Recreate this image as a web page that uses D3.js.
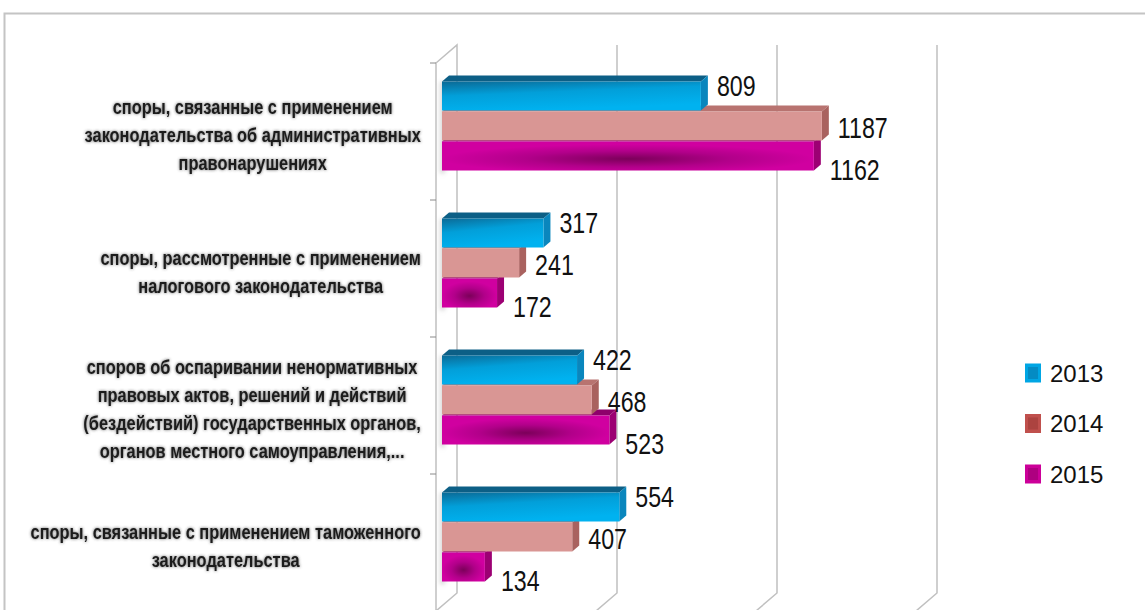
<!DOCTYPE html>
<html><head><meta charset="utf-8">
<script src="https://cdn.jsdelivr.net/npm/d3@7"></script>
<style>
html,body{margin:0;padding:0;background:#fff;}
svg{display:block;}
</style></head>
<body>
<svg id="chart" width="1145" height="610"></svg>
<script>
// ---- data ----
const categories = [
  "споры, связанные с применением\nзаконодательства об административных\nправонарушениях",
  "споры, рассмотренные с применением\nналогового законодательства",
  "споров об оспаривании ненормативных\nправовых актов, решений и действий\n(бездействий) государственных органов,\nорганов местного самоуправления,...",
  "споры, связанные с применением таможенного\nзаконодательства"
];
const series = ["2013", "2014", "2015"];
const values2013 = [809, 317, 422, 554];
const values2014 = [1187, 241, 468, 407];
const values2015 = [1162, 172, 523, 134];
const gridTicks = [0, 500, 1000, 1500];

const seriesValues = [values2013, values2014, values2015];

// ---- layout ----
const svg = d3.select("#chart");
const W = 1145, H = 610;
const depthX = 21, depthY = -18;        // wall depth
const frontTop = 63, frontBottom = 611; // front edge of the side wall
const frontX = 436;
const barX0 = 442;
const barDX = 7, barDY = -6;            // bar 3D depth

const xBar = d3.scaleLinear().domain([0, 1500]).range([barX0, barX0 + 480]);
const xBack = d3.scaleLinear().domain([0, 1500]).range([frontX + depthX, frontX + depthX + 480]);
const yBand = d3.scaleBand().domain(d3.range(categories.length)).range([frontTop, frontBottom]);
const ySeries = d3.scaleBand().domain(d3.range(series.length)).range([-45, 45]);

const defs = svg.append("defs");
// gradients
const gBlue = defs.append("linearGradient").attr("id", "gBlue")
  .attr("x1", 0).attr("y1", 0).attr("x2", 0.35).attr("y2", 1);
gBlue.append("stop").attr("offset", 0).attr("stop-color", "#0b6a96");
gBlue.append("stop").attr("offset", 0.45).attr("stop-color", "#029fd9");
gBlue.append("stop").attr("offset", 1).attr("stop-color", "#00b2f0");

const gMag = defs.append("radialGradient").attr("id", "gMag")
  .attr("cx", 0.5).attr("cy", 0.6).attr("r", 0.5);
gMag.append("stop").attr("offset", 0).attr("stop-color", "#7c005a");
gMag.append("stop").attr("offset", 0.55).attr("stop-color", "#b2008a");
gMag.append("stop").attr("offset", 1).attr("stop-color", "#d000a0");

const gWall = defs.append("linearGradient").attr("id", "gWall")
  .attr("x1", 0).attr("y1", 0).attr("x2", 1).attr("y2", 0);
gWall.append("stop").attr("offset", 0).attr("stop-color", "#ffffff").attr("stop-opacity", 0);
gWall.append("stop").attr("offset", 0.5).attr("stop-color", "#9a9a9a").attr("stop-opacity", 0.55);
gWall.append("stop").attr("offset", 1).attr("stop-color", "#ffffff").attr("stop-opacity", 0);

const blur = defs.append("filter").attr("id", "wblur").attr("x", "-50%").attr("y", "-20%").attr("width", "200%").attr("height", "140%");
blur.append("feGaussianBlur").attr("stdDeviation", 2);

const shadow = defs.append("filter").attr("id", "tshadow").attr("x", "-10%").attr("y", "-30%").attr("width", "120%").attr("height", "160%");
shadow.append("feGaussianBlur").attr("in", "SourceAlpha").attr("stdDeviation", 1.4).attr("result", "b");
shadow.append("feFlood").attr("flood-color", "#3a3a3a").attr("flood-opacity", 0.8).attr("result", "c");
shadow.append("feComposite").attr("in", "c").attr("in2", "b").attr("operator", "in").attr("result", "s");
const fm = shadow.append("feMerge");
fm.append("feMergeNode").attr("in", "s");
fm.append("feMergeNode").attr("in", "SourceGraphic");

const styles = [
  {front: "url(#gBlue)", top: "#0c5f86", side: "#0a86bd"},
  {front: "#d99694", top: "#b87370", side: "#a9625f"},
  {front: "url(#gMag)", top: "#8e006b", side: "#9c0073"}
];

// ---- frame ----
svg.append("path")
  .attr("d", `M4.5,${H + 5} V13.5 H${W + 5}`)
  .attr("fill", "none").attr("stroke", "#c4c4c4").attr("stroke-width", 2);

// ---- walls & gridlines ----
const grid = svg.append("g").attr("fill", "none").attr("stroke", "#c0c0c0").attr("stroke-width", 1.5);
grid.append("path")
  .attr("d", `M${frontX},${frontBottom} V${frontTop} L${frontX + depthX},${frontTop + depthY} V${frontBottom + depthY} L${frontX},${frontBottom}`);
grid.selectAll("path.gl").data(gridTicks.filter(d => d > 0)).join("path").attr("class", "gl")
  .attr("d", d => `M${xBack(d)},${frontTop + depthY} V${frontBottom + depthY} l${-depthX},${-depthY}`);

// category ticks on front edge
svg.append("g").attr("stroke", "#8a8a8a").attr("stroke-width", 1)
  .selectAll("line").data(d3.range(categories.length + 1)).join("line")
  .attr("x1", frontX - 6).attr("x2", frontX)
  .attr("y1", i => frontTop + i * yBand.step()).attr("y2", i => frontTop + i * yBand.step());

// shadows on the side wall
svg.append("g").selectAll("rect").data(d3.range(categories.length)).join("rect")
  .attr("x", frontX + 1).attr("width", 11)
  .attr("y", i => yBand(i) + yBand.bandwidth() / 2 - 5 - 45)
  .attr("height", 92)
  .attr("fill", "url(#gWall)").attr("filter", "url(#wblur)");

// ---- bars ----
const bars = [];
categories.forEach((c, ci) => {
  for (let si = series.length - 1; si >= 0; si--) {
    bars.push({ci, si, v: seriesValues[si][ci]});
  }
});
const barG = svg.append("g");
const bh = ySeries.bandwidth();
bars.forEach(b => {
  const y = yBand(b.ci) + yBand.bandwidth() / 2 - 5 + ySeries(b.si);
  const x0 = xBar(0), x1 = xBar(b.v);
  const st = styles[b.si];
  const g = barG.append("g");
  g.append("path")
    .attr("d", `M${x0},${y} L${x1},${y} L${x1 + barDX},${y + barDY} L${x0 + barDX},${y + barDY} Z`)
    .attr("fill", st.top);
  g.append("path")
    .attr("d", `M${x1},${y} L${x1 + barDX},${y + barDY} L${x1 + barDX},${y + bh + barDY - 1} L${x1},${y + bh - 1} Z`)
    .attr("fill", st.side);
  g.append("rect")
    .attr("x", x0).attr("y", y).attr("width", x1 - x0).attr("height", bh - 1)
    .attr("fill", st.front);
});

// ---- value labels ----
const lblG = svg.append("g").attr("font-family", "'Liberation Sans', Arial, sans-serif")
  .attr("font-size", 29).attr("fill", "#111");
bars.forEach(b => {
  const cy = yBand(b.ci) + yBand.bandwidth() / 2 - 4 + (b.si - 1) * 42;
  lblG.append("text")
    .attr("transform", `translate(${xBar(b.v) + barDX + 9},${cy + 10.4}) scale(0.8,1)`)
    .text(b.v);
});

// ---- category labels (block right-aligned at the axis, lines centred in block) ----
const catG = svg.append("g").attr("font-family", "'Liberation Sans', Arial, sans-serif")
  .attr("font-size", 20).attr("font-weight", "bold").attr("fill", "#1a1a1a")
  .attr("filter", "url(#tshadow)");
const sx = 0.82, blockRight = 421;
categories.forEach((c, ci) => {
  const lines = c.split("\n");
  const lh = 28;
  const cy = yBand(ci) + yBand.bandwidth() / 2 + 3;
  const texts = lines.map((ln, li) => {
    const y = cy + (li - (lines.length - 1) / 2) * lh + 7;
    return catG.append("text").attr("text-anchor", "middle").attr("data-y", y).text(ln);
  });
  const maxW = d3.max(texts, t => t.node().getComputedTextLength()) * sx;
  const cx = blockRight - maxW / 2;
  texts.forEach(t => t.attr("transform", `translate(${cx},${t.attr("data-y")}) scale(${sx},1)`));
});

// ---- legend ----
const legColors = [
  {main: "#00a6e4", dark: "#0679ad"},
  {main: "#c0504d", dark: "#9e3a38"},
  {main: "#cc0099", dark: "#99006f"}
];
const legY = d3.scalePoint().domain(series).range([373, 474]);
const leg = svg.append("g");
series.forEach((s, i) => {
  const y = legY(s);
  const c = legColors[i];
  leg.append("rect").attr("x", 1025).attr("y", y - 9.5).attr("width", 16).attr("height", 19).attr("fill", c.main);
  leg.append("rect").attr("x", 1028).attr("y", y - 6).attr("width", 10).attr("height", 12).attr("fill", c.dark).attr("opacity", 0.6);
  leg.append("text").attr("x", 1050).attr("y", y + 8.6)
    .attr("font-family", "'Liberation Sans', Arial, sans-serif").attr("font-size", 24).attr("fill", "#111")
    .text(s);
});
</script>
</body></html>
